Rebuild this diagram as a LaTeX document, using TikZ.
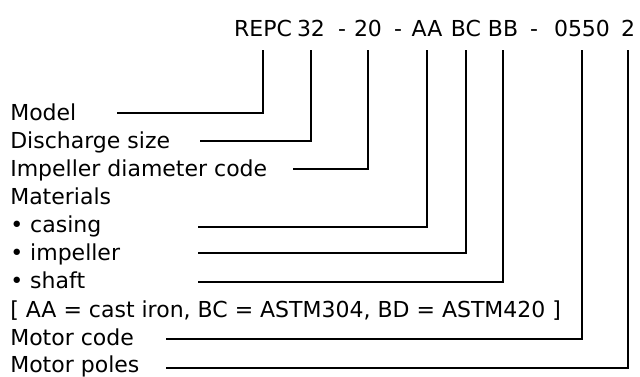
\documentclass[tikz,border=0pt]{standalone}
\usepackage{fontspec}
\setmainfont{DejaVu Sans}
\usepackage{tikz}

\begin{document}
\begin{tikzpicture}[x=0.75pt, y=-0.75pt,
    field/.style={anchor=base west, inner sep=0pt, font=\fontsize{16.5}{21}\selectfont},
    part/.style={anchor=base, inner sep=0pt, text depth=0pt, outer ysep=10.5pt, font=\fontsize{16.5}{21}\selectfont},
    lead/.style={line width=1.1pt, color=black}]
    \useasboundingbox (0,0) rectangle (640,376);

    % type code
    \node[part] (mREPC) at (263,36) {REPC};
    \node[part] (m32) at (311,36) {32};
    \node[part] (d1) at (342,36) {-};
    \node[part] (m20) at (368,36) {20};
    \node[part] (d2) at (398,36) {-};
    \node[part] (mAA) at (427,36) {AA};
    \node[part] (mBC) at (466,36) {BC};
    \node[part] (mBB) at (503,36) {BB};
    \node[part] (d3) at (534,36) {-};
    \node[part] (m0550) at (582,36) {0550};
    \node[part] (m2) at (628,36) {2};

    % descriptions
    \node[field] (lModel) at (10,120) {Model};
    \node[field] (lSize) at (10,148) {Discharge size};
    \node[field] (lImp) at (10,176) {Impeller diameter code};
    \node[field] (lMat) at (10,204) {Materials};
    \node[field] (lCasing) at (10,232) {• casing};
    \node[field] (lImpeller) at (10,260) {• impeller};
    \node[field] (lShaft) at (10,288) {• shaft};
    \node[field] (lKey) at (10,317) {[ AA = cast iron, BC = ASTM304, BD = ASTM420 ]};
    \node[field] (lMotor) at (10,345) {Motor code};
    \node[field] (lPoles) at (10,372.5) {Motor poles};

    % leader starts
    \coordinate (sModel) at (117,113);
    \coordinate (sSize) at (200,141);
    \coordinate (sImp) at (293,169);
    \coordinate (sCasing) at (198,227);
    \coordinate (sImpeller) at (198,253);
    \coordinate (sShaft) at (198,282);
    \coordinate (sMotor) at (166,339);
    \coordinate (sPoles) at (166,368);

    % leaders
    \draw[lead] (sModel) -| (mREPC.south);
    \draw[lead] (sSize) -| (m32.south);
    \draw[lead] (sImp) -| (m20.south);
    \draw[lead] (sCasing) -| (mAA.south);
    \draw[lead] (sImpeller) -| (mBC.south);
    \draw[lead] (sShaft) -| (mBB.south);
    \draw[lead] (sMotor) -| (m0550.south);
    \draw[lead] (sPoles) -| (m2.south);
\end{tikzpicture}
\end{document}
